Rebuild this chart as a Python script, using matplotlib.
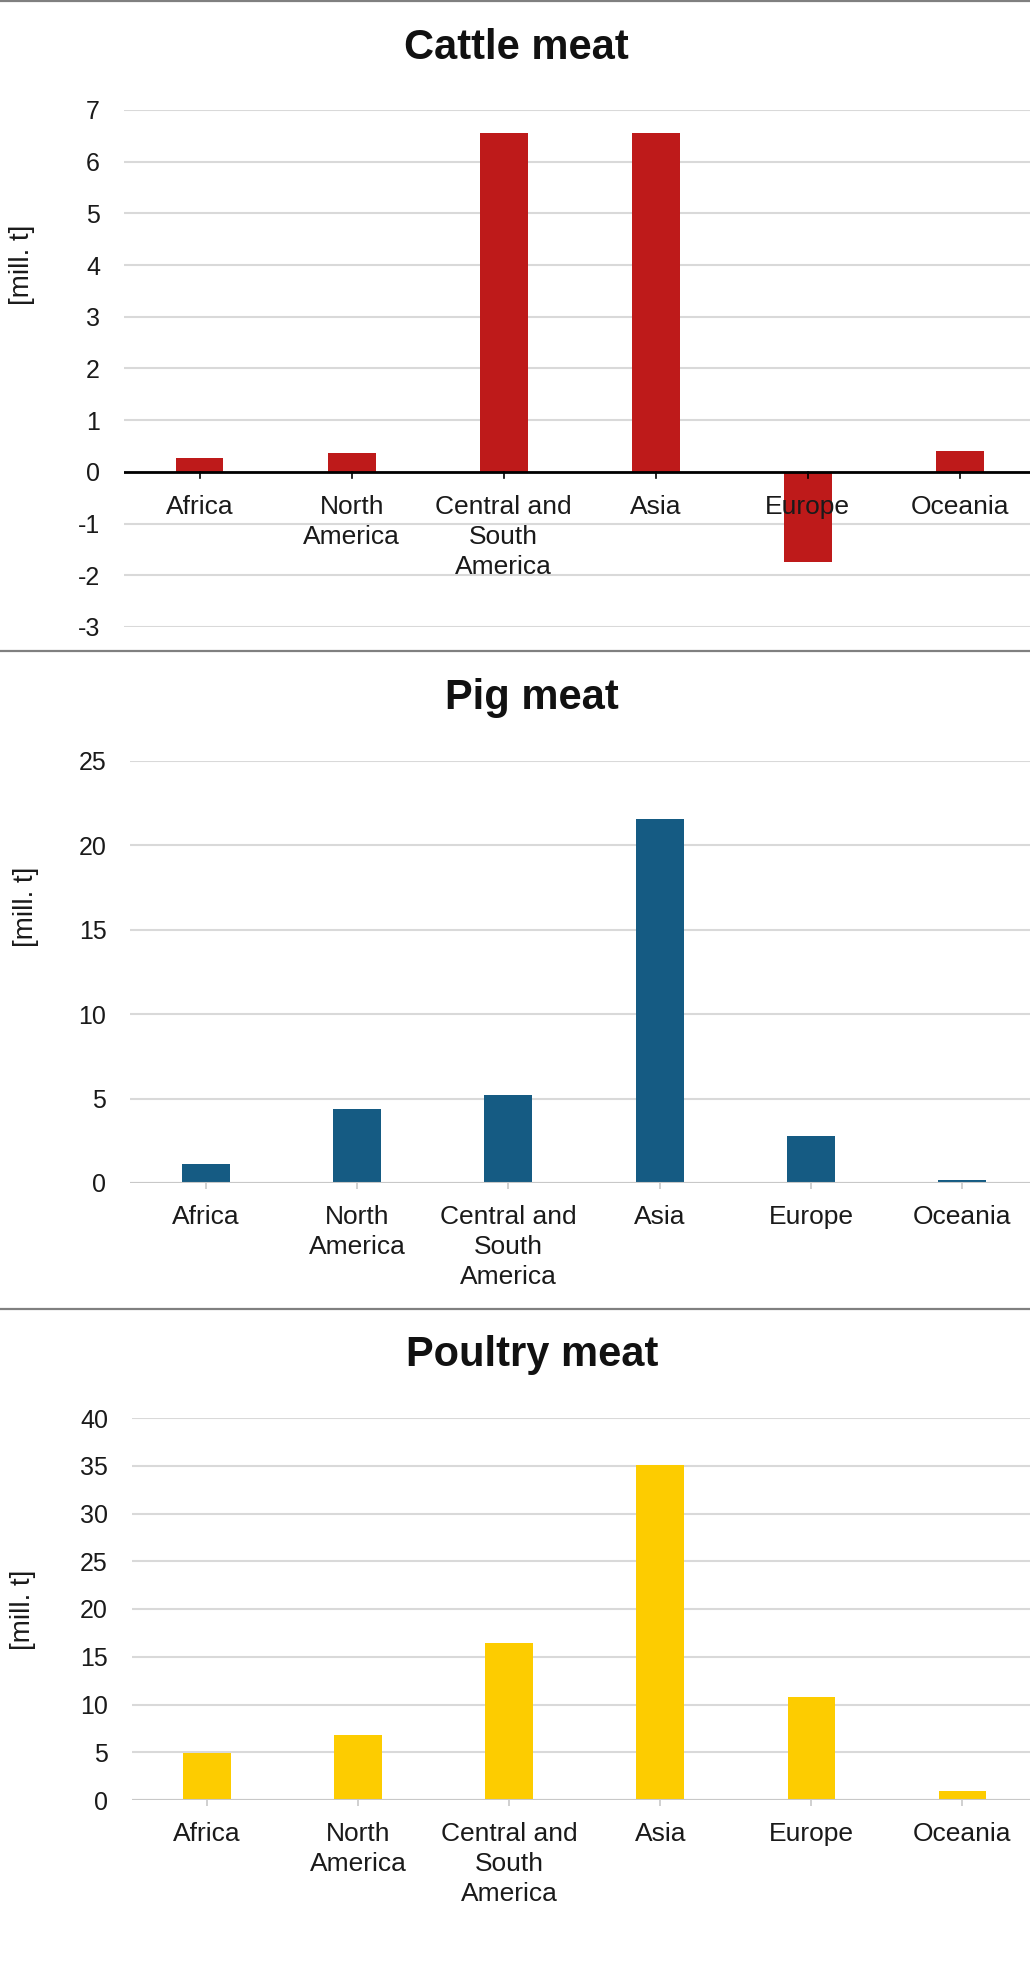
import matplotlib
matplotlib.use('Agg')
import matplotlib.pyplot as plt
import numpy as np

plt.rcParams['font.family'] = ['Liberation Sans', 'DejaVu Sans']

regions = ['Africa', 'North\nAmerica', 'Central and\nSouth\nAmerica', 'Asia', 'Europe', 'Oceania']

cattle = [0.26, 0.36, 6.55, 6.55, -1.75, 0.41]
pig = [1.13, 4.37, 5.19, 21.55, 2.78, 0.15]
poultry = [4.9, 6.84, 16.4, 35.1, 10.8, 0.9]

cattle_ticks = [-3, -2, -1, 0, 1, 2, 3, 4, 5, 6, 7]
pig_ticks = [0, 5, 10, 15, 20, 25]
poultry_ticks = [0, 5, 10, 15, 20, 25, 30, 35, 40]

W, H = 1030, 1962
fig = plt.figure(figsize=(W / 100, H / 100), dpi=100)
LS = 1.32


def px_axes(left, top, right, bottom):
    # pixel box -> figure fraction
    return fig.add_axes([left / W, 1 - bottom / H, (right - left) / W, (bottom - top) / H])


def draw_panel(ax, values, ticks, color, zero_color):
    x = np.arange(len(regions))
    ax.bar(x, values, width=0.315, color=color, zorder=3)
    ax.set_xlim(-0.5, len(regions) - 0.5)
    ax.set_ylim(ticks[0], ticks[-1])
    ax.set_yticks(ticks)
    ax.set_yticklabels([str(t) for t in ticks], fontsize=18, color='#1a1a1a')
    ax.tick_params(axis='y', length=0, pad=17)
    ax.grid(axis='y', color='#d9d9d9', linewidth=1.5, zorder=0)
    for s in ax.spines.values():
        s.set_visible(False)
    ax.axhline(0, color=zero_color, linewidth=2 if zero_color == 'black' else 1.5, zorder=4)
    ax.set_xticks(x)
    ax.set_xticklabels(regions, fontsize=19, linespacing=LS, color='#1a1a1a')
    ax.tick_params(axis='x', length=4.5, width=1.2, color=zero_color, pad=11)
    return ax


ax1 = px_axes(123.5, 110, 1036, 627)
draw_panel(ax1, cattle, cattle_ticks, '#be1a1a', 'black')

ax2 = px_axes(130, 761, 1038, 1183)
draw_panel(ax2, pig, pig_ticks, '#155b83', '#c8c8c8')

ax3 = px_axes(131.5, 1418, 1038, 1800)
draw_panel(ax3, poultry, poultry_ticks, '#fdcc00', '#c8c8c8')

# cattle x axis crosses at zero: draw ticks + labels at the zero line
ax1.set_xticklabels([])
ax1.tick_params(axis='x', length=0)
for i, r in enumerate(regions):
    ax1.plot([i, i], [0, -0.12], color='black', linewidth=1.2, zorder=5, clip_on=False)
    ax1.text(i, -0.44, r, ha='center', va='top', fontsize=19, linespacing=LS,
             color='#1a1a1a', zorder=6)

fig.text(516 / W, 1 - 48 / H, 'Cattle meat', ha='center', va='center', fontsize=30, fontweight='bold', color='#111111')
fig.text(532 / W, 1 - 698 / H, 'Pig meat', ha='center', va='center', fontsize=30, fontweight='bold', color='#111111')
fig.text(532 / W, 1 - 1355 / H, 'Poultry meat', ha='center', va='center', fontsize=30, fontweight='bold', color='#111111')

fig.text(22 / W, 1 - 265 / H, '[mill. t]', rotation=90, ha='center', va='center', fontsize=20, color='#1a1a1a')
fig.text(26 / W, 1 - 907 / H, '[mill. t]', rotation=90, ha='center', va='center', fontsize=20, color='#1a1a1a')
fig.text(23 / W, 1 - 1610 / H, '[mill. t]', rotation=90, ha='center', va='center', fontsize=20, color='#1a1a1a')

# panel separators
for y in [1, 651, 1309]:
    fig.add_artist(plt.Line2D([0, 1], [1 - y / H, 1 - y / H], color='#808080', linewidth=1.6))

fig.savefig('out.png', dpi=100)
